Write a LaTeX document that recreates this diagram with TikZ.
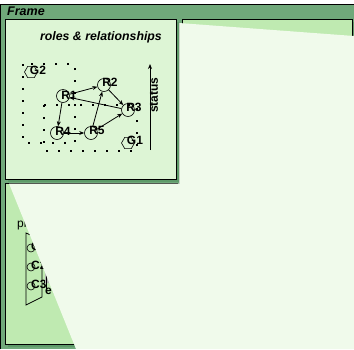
\documentclass[tikz,border=0pt]{standalone}
\usepackage{fontspec}
\setmainfont{Liberation Sans}
\usetikzlibrary{shapes.geometric,arrows.meta}
\definecolor{framegreen}{HTML}{70A87A}
\definecolor{paleA}{HTML}{DDF5D5}
\definecolor{paleB}{HTML}{BFEAB1}
\definecolor{pagec}{HTML}{F0FAEB}
\definecolor{shadowc}{HTML}{5E9A69}
\tikzset{
  panel/.style={draw=black,line width=1pt},
  rnode/.style={circle,draw=black,line width=0.6pt,minimum size=13pt,inner sep=0pt},
  gnode/.style={regular polygon,regular polygon sides=6,draw=black,line width=0.6pt,minimum size=13pt,inner sep=0pt},
  lbl/.style={font=\fontsize{12}{13}\selectfont\bfseries,inner sep=0pt},
  edge/.style={draw=black,line width=0.8pt,-{Stealth[length=5pt,width=4pt]}},
  grp/.style={draw=black,line width=1.1pt,dash pattern=on 2pt off 10pt},
}
\begin{document}
\begin{tikzpicture}[x=1pt,y=-1pt]
\useasboundingbox (0,0) rectangle (354,349);
% frame
\fill[framegreen] (0,4) rectangle (354,349);
\draw[line width=1pt] (0.5,349) -- (0.5,4.5) -- (354,4.5);
\node[anchor=west,font=\fontsize{12.5}{13}\selectfont\bfseries\itshape,inner sep=0pt] (title) at (7,11.5) {Frame};
% top-left panel
\fill[shadowc] (8,22) rectangle (179,182);
\draw[panel,fill=paleA] (5,19) rectangle (176,179);
\node[font=\fontsize{12.3}{13}\selectfont\bfseries\itshape,inner sep=0pt] (ttl) at (101,37) {roles \& relationships};
% groups
\draw[grp] (23,64) rectangle (75,143);
\draw[grp] (44,105) rectangle (137,151);
% nodes
\node[gnode] (G2) at (31,72) {};
\node[rnode] (R2) at (104,85) {};
\node[rnode] (R1) at (63,96) {};
\node[rnode] (R3) at (128,110) {};
\node[rnode] (R4) at (57,133) {};
\node[rnode] (R5) at (91,133) {};
\node[gnode] (G1) at (128,143) {};
\node[lbl] (lG2) at (38,70.5) {G2};
\node[lbl] (lR2) at (110,82) {R2};
\node[lbl] (lR1) at (69,95) {R1};
\node[lbl] (lR3) at (134,107.5) {R3};
\node[lbl] (lR4) at (63,131) {R4};
\node[lbl] (lR5) at (97,130.5) {R5};
\node[lbl] (lG1) at (135,140) {G1};
\draw[edge] (R1) -- (R2);
\draw[edge] (R2) -- (R3);
\draw[edge] (R3) -- (R1);
\draw[edge] (R1) -- (R4);
\draw[edge] (R4) -- (R5);
\draw[edge] (R5) -- (R2);
\draw[edge] (R5) -- (R3);
% status axis
\coordinate (sb) at (150,150);
\coordinate (st) at (150,64);
\draw[edge,line width=1pt] (sb) -- (st);
\node[lbl,rotate=90] (status) at (154,95) {status};
% top-right panel
\fill[shadowc] (185,22) rectangle (355,40);
\draw[panel,fill=paleB] (182,19.5) rectangle (352,120);
% bottom-left panel
\fill[shadowc] (8,186) rectangle (180,347);
\draw[panel,fill=paleB] (5,183) rectangle (177,344);
\node[anchor=west,lbl,font=\fontsize{12}{13}\selectfont] (proc) at (17,226) {processes};
\draw[line width=0.8pt] (26,233) -- (42,240) -- (42,297) -- (26,305) -- cycle;
\node[rnode,minimum size=8pt] (C1) at (31,248) {};
\node[rnode,minimum size=8pt] (C2) at (31,267) {};
\node[rnode,minimum size=8pt] (C3) at (31,286) {};
\node[lbl,anchor=west] (lC1) at (31,246) {C1};
\node[lbl,anchor=west] (lC2) at (31,265) {C2};
\node[lbl,anchor=west] (lC3) at (31,284) {C3};
\fill[gray!60] (45,272) -- (50,283) -- (45,283) -- cycle;
\draw[line width=0.7pt] (46,268) -- (46,290);
\node[lbl,anchor=west] (le) at (45,291) {e};
% page overlay
\fill[pagec] (179,23) -- (354,36) -- (354,349) -- (76,349) -- (9,183.5) -- (179,183.5) -- cycle;
\draw[pagec!85!black,line width=0.4pt] (179.2,23) -- (179.2,183.5);
\end{tikzpicture}
\end{document}
